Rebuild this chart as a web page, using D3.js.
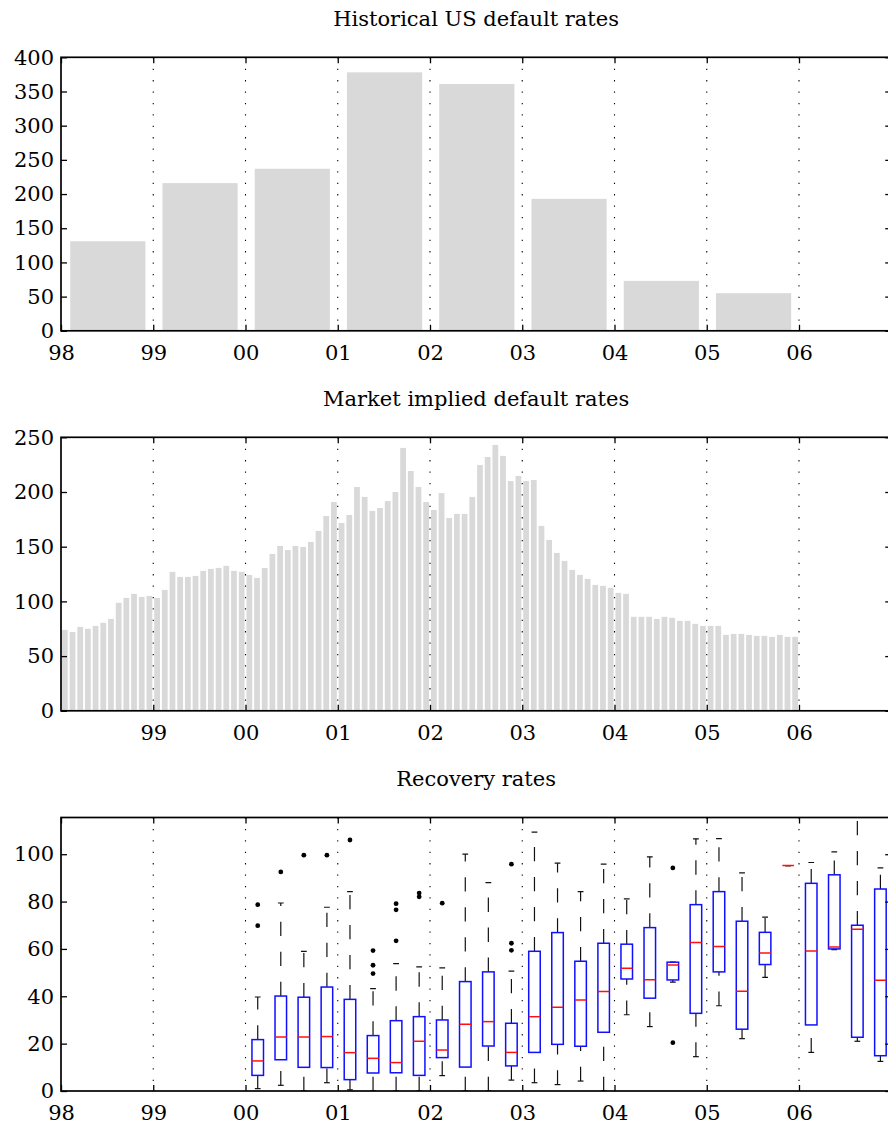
<!DOCTYPE html>
<html>
<head>
<meta charset="utf-8">
<script src="https://cdn.jsdelivr.net/npm/d3@7"></script>
<style>
  body { margin: 0; background: #fff; }
  svg { display: block; }
  text { font-family: "DejaVu Serif", serif; fill: #000; }
</style>
</head>
<body>
<svg id="chart" width="888" height="1128"></svg>
<script>
// ---- Data ---------------------------------------------------------------
const yearTicks = [1998, 1999, 2000, 2001, 2002, 2003, 2004, 2005, 2006];
const yearTickLabels = ["98", "99", "00", "01", "02", "03", "04", "05", "06"];

// Historical US defaults per year
const historicalYears = [1998, 1999, 2000, 2001, 2002, 2003, 2004, 2005];
const historicalRates = [131, 216, 237, 378, 361, 193, 73, 55];
const historicalTicks = [0, 50, 100, 150, 200, 250, 300, 350, 400];

// Market implied defaults, monthly from Jan 1998
const impliedStartYear = 1998;
const impliedRates = [
  74, 72, 76.7, 75, 77.6, 80.4, 84, 98.7, 103.2, 106.9, 104.1, 105,
  103.2, 110.5, 127, 122.4, 122.4, 123.3, 127.9, 129.7, 130.6, 132.5, 127.9, 127,
  124.2, 121.5, 130.6, 143.4, 150.7, 147, 150.7, 149.8, 154.4, 164.4, 178.1, 190.9,
  171.7, 179, 204.6, 195.5, 182.7, 185.4, 191.8, 200, 240.3, 219.2, 204.6, 190.9,
  183.6, 199, 176.3, 180, 180, 195.5, 224.7, 232, 243, 233, 210, 214.7,
  210, 211, 169, 156.2, 144.3, 137, 128.8, 124.2, 120.6, 115.1, 114.2, 112.4,
  107.8, 106.9, 85.9, 85.9, 85.9, 84, 85.9, 85, 82.2, 82.2, 79.5, 77.6,
  77.6, 77.6, 69.4, 70.3, 70.3, 69.4, 68.5, 68.5, 67.6, 69.4, 67.6, 67.6
];
const impliedTicks = [0, 50, 100, 150, 200, 250];

// Recovery rates, quarterly box statistics from 2000 Q1
const recoveryStartYear = 2000;
const recoveryLow    = [1, 2.4, 0, 3.5,  0.5, 0, 0, 0,  6.5, 0, 0, 4.6,  3.5, 2.7, 4.2, 0,  32.2, 27.2, 46, 14.5,  36, 22.1, 48, 95.2,  16.3, 59.7, 21, 12.5];
const recoveryQ1     = [6.6, 13.2, 10, 9.9,  4.8, 7.6, 7.7, 6.6,  14.1, 10.1, 19, 10.6,  16.3, 19.7, 18.9, 24.8,  47.3, 39.2, 46.9, 32.8,  50.3, 26.1, 53.4, 95.2,  27.9, 60, 22.7, 14.9];
const recoveryMedian = [12.7, 22.8, 22.8, 23,  16.2, 13.8, 12, 21,  17.3, 28.2, 29.3, 16.3,  31.4, 35.4, 38.4, 42,  51.8, 47, 53.2, 62.7,  61, 42.1, 58.3, 95.2,  59.1, 60.8, 68.3, 46.8];
const recoveryQ3     = [21.7, 40.1, 39.6, 43.9,  38.7, 23.4, 29.7, 31.4,  30, 46.2, 50.3, 28.6,  59, 66.9, 54.8, 62.4,  62, 69, 54.4, 78.7,  84.2, 71.7, 67, 95.2,  87.7, 91.3, 70, 85.3];
const recoveryHigh   = [39.7, 79.4, 59, 77.6,  84.2, 43.2, 53.8, 52.4,  52, 100, 88, 50.6,  109.3, 96.2, 84.2, 95.8,  81.1, 98.9, 54.4, 106.5,  106.6, 92.1, 73.4, 95.2,  96.5, 101, 118, 94.2];
const recoveryOutliers = [
  [69.8, 78.7], [92.5], [99.6], [99.6],
  [106], [49.6, 53.1, 59.3], [63.4, 76.5, 79.1], [82, 83.6],
  [79.3], [], [], [59.4, 62.4, 95.8],
  [], [], [], [],
  [], [], [94.2, 20.4], [],
  [], [], [], [],
  [], [], [], []
];
const recoveryTicks = [0, 20, 40, 60, 80, 100];

// ---- Layout -------------------------------------------------------------
const svg = d3.select("#chart");
const left = 61, right = 891.25, panelH = 273.5;
const panelTops = [57.3, 437.3, 817.5];
const fontSize = 21;
const barGrey = "#d9d9d9";

const x = d3.scaleLinear().domain([1998, 2007]).range([left, right]);

function panel(top, title, yMax, yTicks, xTickValues, xLabels) {
  const g = svg.append("g");
  const y = d3.scaleLinear().domain([0, yMax]).range([top + panelH, top]);

  g.append("text")
    .attr("x", (left + right) / 2)
    .attr("y", top - 31.5)
    .attr("text-anchor", "middle")
    .style("font-size", fontSize + "px")
    .text(title);

  const clipId = "clip" + Math.round(top);
  svg.append("clipPath").attr("id", clipId)
    .append("rect").attr("x", left).attr("y", top)
    .attr("width", right - left).attr("height", panelH);

  const plot = g.append("g").attr("clip-path", `url(#${clipId})`);

  // dotted year grid
  g.append("g").selectAll("line")
    .data(yearTicks.slice(1))
    .join("line")
    .attr("x1", d => x(d)).attr("x2", d => x(d))
    .attr("y1", top).attr("y2", top + panelH)
    .attr("stroke", "#000").attr("stroke-width", 1.1)
    .attr("stroke-dasharray", "1.3 10.1");

  return { g, plot, y, top, yTicks, xTickValues, xLabels };
}

function frame(p) {
  const { g, y, top, yTicks, xTickValues, xLabels } = p;
  const tickLen = 6;
  const bottomAxis = d3.axisBottom(x).tickValues(xTickValues)
    .tickSizeInner(-tickLen).tickSizeOuter(0).tickPadding(14.4)
    .tickFormat((d, i) => xLabels[i]);
  const topAxis = d3.axisTop(x).tickValues(xTickValues)
    .tickSizeInner(-tickLen).tickSizeOuter(0).tickFormat("");
  const leftAxis = d3.axisLeft(y).tickValues(yTicks)
    .tickSizeInner(-tickLen).tickSizeOuter(0).tickPadding(7);
  const rightAxis = d3.axisRight(y).tickValues(yTicks)
    .tickSizeInner(-tickLen).tickSizeOuter(0).tickFormat("");

  const axes = [
    g.append("g").attr("transform", `translate(0,${top + panelH})`).call(bottomAxis),
    g.append("g").attr("transform", `translate(0,${top})`).call(topAxis),
    g.append("g").attr("transform", `translate(${left},0)`).call(leftAxis),
    g.append("g").attr("transform", `translate(${right},0)`).call(rightAxis)
  ];
  axes.forEach(a => {
    a.select(".domain").remove();
    a.selectAll(".tick line").attr("stroke", "#000").attr("stroke-width", 1.3);
    a.selectAll("text")
      .style("font-family", "'DejaVu Serif', serif")
      .style("font-size", fontSize + "px").attr("fill", "#000");
  });

  g.append("rect")
    .attr("x", left).attr("y", top)
    .attr("width", right - left).attr("height", panelH)
    .attr("fill", "none").attr("stroke", "#000").attr("stroke-width", 1.7);
}

// ---- Panel 1: historical default rates ---------------------------------
const p1 = panel(panelTops[0], "Historical US default rates", 400, historicalTicks,
  yearTicks, yearTickLabels);
p1.plot.selectAll("rect")
  .data(historicalRates)
  .join("rect")
  .attr("x", (d, i) => x(historicalYears[i] + 0.1))
  .attr("width", x(1998.915) - x(1998.1))
  .attr("y", d => p1.y(d))
  .attr("height", d => p1.y(0) - p1.y(d))
  .attr("fill", barGrey);
frame(p1);

// ---- Panel 2: market implied default rates -----------------------------
const p2 = panel(panelTops[1], "Market implied default rates", 250, impliedTicks,
  yearTicks.slice(1), yearTickLabels.slice(1));
const monthW = 1 / 12;
p2.plot.selectAll("rect")
  .data(impliedRates)
  .join("rect")
  .attr("x", (d, i) => x(impliedStartYear + (i + 0.5) * monthW) - (x(1998 + 0.75 * monthW) - x(1998)) / 2)
  .attr("width", x(1998 + 0.75 * monthW) - x(1998))
  .attr("y", d => p2.y(d))
  .attr("height", d => p2.y(0) - p2.y(d))
  .attr("fill", barGrey);
frame(p2);

// ---- Panel 3: recovery rates box plots ---------------------------------
const p3 = panel(panelTops[2], "Recovery rates", 115.5, recoveryTicks,
  yearTicks, yearTickLabels);
const quarter = 0.25;
const boxHalf = (x(1998 + quarter * 0.5) - x(1998)) / 2;
const capHalf = boxHalf / 2;
const boxes = recoveryMedian.map((m, i) => ({
  cx: x(recoveryStartYear + (i + 0.53) * quarter),
  low: recoveryLow[i], q1: recoveryQ1[i], med: m,
  q3: recoveryQ3[i], high: recoveryHigh[i], out: recoveryOutliers[i]
}));
const bx = p3.plot.selectAll("g.box").data(boxes).join("g").attr("class", "box");
const yR = p3.y;
// whiskers are drawn from the lower end upward
bx.append("line")
  .attr("x1", d => d.cx).attr("x2", d => d.cx)
  .attr("y1", d => yR(d.low)).attr("y2", d => yR(d.q1))
  .attr("stroke", "#111").attr("stroke-width", 1.2).attr("stroke-dasharray", "14.3 15.7");
bx.append("line")
  .attr("x1", d => d.cx).attr("x2", d => d.cx)
  .attr("y1", d => yR(d.q3)).attr("y2", d => yR(d.high))
  .attr("stroke", "#111").attr("stroke-width", 1.2).attr("stroke-dasharray", "14.3 15.7");
bx.append("line")
  .attr("x1", d => d.cx - capHalf).attr("x2", d => d.cx + capHalf)
  .attr("y1", d => yR(d.low)).attr("y2", d => yR(d.low))
  .attr("stroke", "#111").attr("stroke-width", 1.2);
bx.append("line")
  .attr("x1", d => d.cx - capHalf).attr("x2", d => d.cx + capHalf)
  .attr("y1", d => yR(d.high)).attr("y2", d => yR(d.high))
  .attr("stroke", "#111").attr("stroke-width", 1.2);
bx.append("rect")
  .attr("x", d => d.cx - boxHalf).attr("width", 2 * boxHalf)
  .attr("y", d => yR(d.q3)).attr("height", d => yR(d.q1) - yR(d.q3))
  .attr("fill", "none").attr("stroke", "#1010ff").attr("stroke-width", 1.5);
bx.append("line")
  .attr("x1", d => d.cx - boxHalf).attr("x2", d => d.cx + boxHalf)
  .attr("y1", d => yR(d.med)).attr("y2", d => yR(d.med))
  .attr("stroke", "#ff1010").attr("stroke-width", 1.5);
bx.selectAll("circle")
  .data(d => d.out.map(v => ({ cx: d.cx, v })))
  .join("circle")
  .attr("cx", d => d.cx).attr("cy", d => yR(d.v))
  .attr("r", 2.4).attr("fill", "#000");
frame(p3);
</script>
</body>
</html>
